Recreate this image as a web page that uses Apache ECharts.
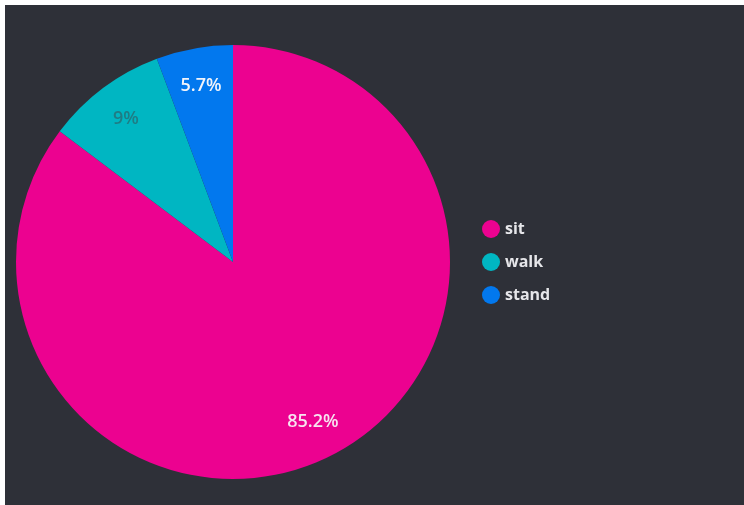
<!DOCTYPE html>
<html>
<head>
<meta charset="utf-8">
<script src="https://cdn.jsdelivr.net/npm/echarts@6/dist/echarts.min.js"></script>
<style>
  html, body { margin: 0; padding: 0; background: #ffffff; }
  #chart { position: absolute; left: 5px; top: 5px; width: 739px; height: 500px; }
</style>
</head>
<body>
<div id="chart"></div>
<script>
// Activity share (percent of time)
const categories = ['sit', 'walk', 'stand'];
const shares = [85.2, 9, 5.7];
const sliceColors = ['#ec0290', '#00b6c2', '#0278ee'];
const labelColors = ['#f7e4f0', '#1f7c84', '#f2f4fa'];

const pieData = categories.map((name, i) => ({
  name: name,
  value: shares[i],
  itemStyle: { color: sliceColors[i] },
  label: { color: labelColors[i] }
}));

const chart = echarts.init(document.getElementById('chart'), null, { renderer: 'canvas' });

const center = [228, 257];
const outer = 217;

chart.setOption({
  backgroundColor: '#2e3038',
  animation: false,
  legend: {
    orient: 'vertical',
    left: 472,
    top: 210,
    icon: 'circle',
    itemWidth: 18,
    itemHeight: 18,
    itemGap: 15,
    data: categories,
    textStyle: {
      color: '#e6e6ea',
      fontSize: 16,
      fontWeight: 'bold',
      fontFamily: 'Open Sans'
    }
  },
  series: [
    {
      // filled slices
      type: 'pie',
      center: center,
      radius: [0, outer],
      startAngle: 90,
      clockwise: true,
      label: { show: false },
      labelLine: { show: false },
      emphasis: { disabled: true },
      data: pieData
    },
    {
      // transparent ring that carries the percentage labels near the rim
      type: 'pie',
      center: center,
      radius: [Math.round(outer * 0.62), outer],
      startAngle: 90,
      clockwise: true,
      silent: true,
      itemStyle: { color: 'rgba(0,0,0,0)', borderWidth: 0 },
      label: {
        show: true,
        position: 'inside',
        formatter: '{c}%',
        fontSize: 18,
        fontWeight: 600,
        fontFamily: 'Open Sans'
      },
      labelLine: { show: false },
      emphasis: { disabled: true },
      data: pieData.map(d => ({
        name: d.name,
        value: d.value,
        itemStyle: { color: 'rgba(0,0,0,0)' },
        label: d.label
      }))
    }
  ]
});
</script>
</body>
</html>
